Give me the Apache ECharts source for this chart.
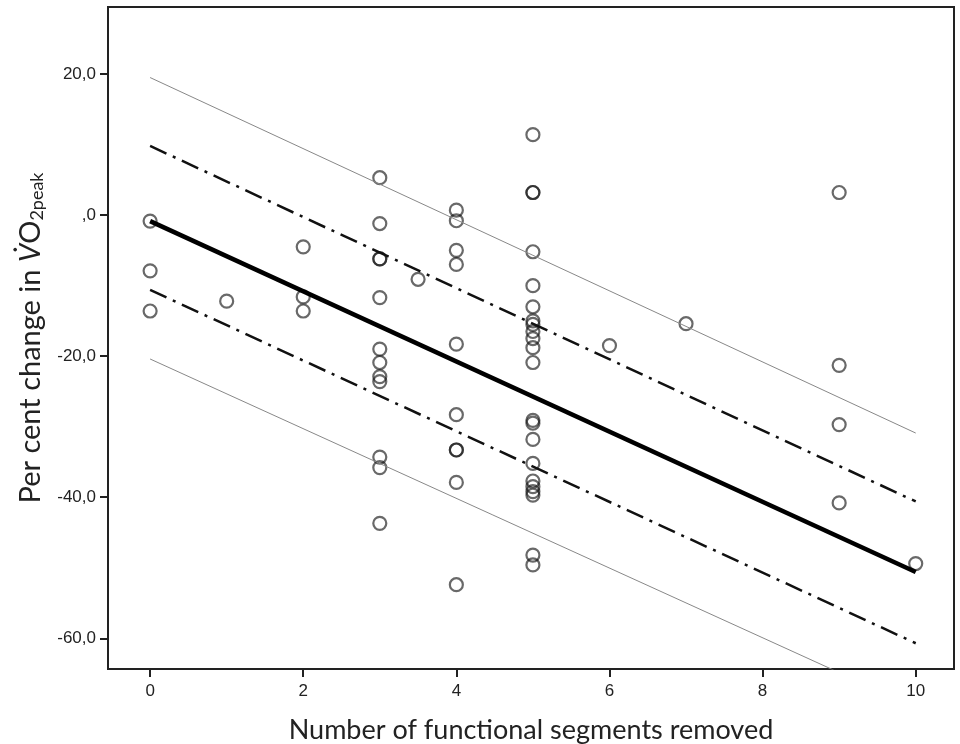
<!DOCTYPE html>
<html>
<head>
<meta charset="utf-8">
<script src="https://cdn.jsdelivr.net/npm/echarts@6/dist/echarts.min.js"></script>
<style>html,body{margin:0;padding:0;background:#fff}#c{width:960px;height:744px}</style>
</head>
<body>
<div id="c"></div>
<script>
// Observed points: [segments removed, % change in VO2peak]
const pointsX = [0,0,0, 1, 2,2,2,
  3,3,3,3,3,3,3,3,3,3,3,3,
  3.5,
  4,4,4,4,4,4,4,4,4,4,
  5,5,5,5,5,5,5,5,5,5,5,5,5,5,5,5,5,5,5,5,5,5,
  6, 7, 9,9,9,9, 10];
const pointsY = [-0.85,-7.9,-13.6, -12.2, -4.5,-11.6,-13.6,
  5.3,-1.2,-6.2,-6.2,-11.7,-19.0,-20.9,-22.9,-23.6,-34.3,-35.8,-43.7,
  -9.1,
  0.7,-0.8,-5.0,-7.0,-18.3,-28.3,-33.3,-33.3,-37.9,-52.4,
  11.4,3.2,3.2,-5.2,-10.0,-13.0,-15.0,-15.5,-16.5,-17.5,-18.8,-20.9,-29.1,-29.5,-31.8,-35.2,-37.7,-38.5,-39.2,-39.7,-48.2,-49.6,
  -18.5, -15.4, 3.2,-21.3,-29.7,-40.8, -49.4];
// Fitted line and bands (endpoints at x = 0 and x = 10)
const lineX = [0, 10];
const fitY = [-0.85, -50.6];
const ciUpperY = [9.8, -40.6];
const ciLowerY = [-10.6, -60.7];
const piUpperY = [19.5, -30.9];
const piLowerY = [-20.4, -69.8];
// Tick labels
const xTicks = [0, 2, 4, 6, 8, 10];
const yTicks = [-60, -40, -20, 0, 20];

const scatterData = pointsX.map((x, i) => [x, pointsY[i]]);
const mk = ys => lineX.map((x, i) => [x, ys[i]]);

function fmtY(v) {
  const s = Math.abs(v).toFixed(1).replace('.', ',');
  const t = Math.abs(v) < 1e-9 ? ',0' : s;
  return (v < 0 ? '-' : '') + t;
}

const chart = echarts.init(document.getElementById('c'), null, {renderer: 'canvas'});
const dashDot = [18, 7, 3, 7];
chart.setOption({
  animation: false,
  backgroundColor: '#fff',
  grid: {left: 108, right: 6, top: 7, bottom: 75, outerBoundsMode: 'none', containLabel: false,
    show: true, borderColor: '#222', borderWidth: 2, backgroundColor: 'transparent'},
  xAxis: {
    type: 'value', min: -0.55, max: 10.5,
    name: 'Number of functional segments removed',
    nameLocation: 'middle', nameGap: 48,
    nameTextStyle: {fontFamily: 'Lato', fontSize: 27, color: '#222'},
    axisLine: {show: true, onZero: false, lineStyle: {color: '#222', width: 2}},
    axisTick: {show: true, inside: false, length: 8, lineStyle: {color: '#222', width: 2}, customValues: xTicks},
    axisLabel: {margin: 14, fontFamily: 'Liberation Sans', fontSize: 17, color: '#222', customValues: xTicks,
      formatter: v => String(v)},
    splitLine: {show: false}
  },
  yAxis: {
    type: 'value', min: -64.35, max: 29.5,
    name: '{a|Per cent change in }{v|V\u0307}{a|O}{s|2peak}',
    nameLocation: 'middle', nameGap: 60, nameRotate: 90,
    nameTextStyle: {
      color: '#222',
      rich: {
        a: {fontFamily: 'Lato', fontSize: 29, color: '#222'},
        v: {fontFamily: 'Lato', fontStyle: 'italic', fontSize: 29, color: '#222'},
        s: {fontFamily: 'Lato', fontSize: 18, color: '#222', padding: [13, 0, 0, 0]}
      }
    },
    axisLine: {show: true, onZero: false, lineStyle: {color: '#222', width: 2}},
    axisTick: {show: true, inside: false, length: 8, lineStyle: {color: '#222', width: 2}, customValues: yTicks},
    axisLabel: {margin: 12, fontFamily: 'Liberation Sans', fontSize: 17, color: '#222', customValues: yTicks,
      formatter: fmtY},
    splitLine: {show: false}
  },
  series: [
    {type: 'scatter', data: scatterData, symbol: 'circle', symbolSize: 13,
      itemStyle: {color: 'rgba(255,255,255,0)', borderColor: 'rgba(20,20,20,0.8)', borderWidth: 2.2}, z: 2},
    {type: 'line', data: mk(piUpperY), symbol: 'none', clip: true, lineStyle: {color: '#888', width: 1}, z: 3},
    {type: 'line', data: mk(piLowerY), symbol: 'none', clip: true, lineStyle: {color: '#888', width: 1}, z: 3},
    {type: 'line', data: mk(ciUpperY), symbol: 'none', clip: true, lineStyle: {color: '#111', width: 2.5, type: dashDot}, z: 3},
    {type: 'line', data: mk(ciLowerY), symbol: 'none', clip: true, lineStyle: {color: '#111', width: 2.5, type: dashDot}, z: 3},
    {type: 'line', data: mk(fitY), symbol: 'none', clip: true, lineStyle: {color: '#000', width: 4.5}, z: 4}
  ]
});
</script>
</body>
</html>
